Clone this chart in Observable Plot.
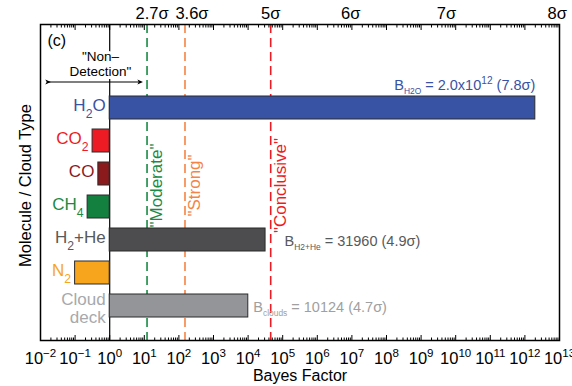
<!DOCTYPE html>
<html><head><meta charset="utf-8">
<script src="https://cdn.jsdelivr.net/npm/d3@7"></script>
<script src="https://cdn.jsdelivr.net/npm/@observablehq/plot@0.6"></script>
<style>body{margin:0;background:#fff}</style>
</head><body><div id="chart"></div>
<script>
// ---- data ----
const categories = ["H2O", "CO2", "CO", "CH4", "H2+He", "N2", "Cloud deck"];
const categoryLabels = ["H_{2}O", "CO_{2}", "CO", "CH_{4}", "H_{2}+He", "N_{2}", "Cloud\ndeck"];
const bayesFactors = [2.0e12, 0.32, 0.47, 0.23, 31960, 0.10, 10124];
const barColors = ["#3953a4", "#ed1c24", "#8b1a1d", "#138040", "#4d4d4f", "#f7a51c", "#939598"];
const labelColors = ["#3953a4", "#ed1c24", "#8b1a1d", "#1a8a45", "#58595b", "#f7a51c", "#a7a9ac"];

const decades = d3.range(-2, 14);
const tickLabels = decades.map(k => `10^{${k < 0 ? "\u2212" + (-k) : k}}`);
const minorTicks = decades.slice(0, -1).flatMap(k => d3.range(2, 10).map(m => m * 10 ** k));

const sigmaLabels = ["2.7σ", "3.6σ", "5σ", "6σ", "7σ", "8σ"];
const sigmaBayes = [12, 150, 4.5e4, 9.3e6, 5.4e9, 8.6e12];

const thresholdNames = ['"Moderate"', '"Strong"', '"Conclusive"'];
const thresholdBayes = [12, 150, 4.5e4];
const thresholdColors = ["#1a8a45", "#f58345", "#ed1c24"];

const annotationCats = ["H2O", "H2+He", "Cloud deck"];
const annotationBayes = [2.0e12, 31960, 10124];
const annotationTexts = ["B~{H2O} = 2.0x10^{12} (7.8σ)", "B~{H2+He} = 31960 (4.9σ)", "B~{clouds} = 10124 (4.7σ)"];
const annotationColors = ["#3953a4", "#58595b", "#a0a0a0"];

const noteRow = "note";
const nonDetectionText = '"Non\u2013\nDetection"';
const nonDetectionCenter = 0.54;
const nonDetectionRange = [0.017, 7.8];

// ---- tables ----
const rows = categories.map((c, i) => ({cat: c, label: categoryLabels[i], value: bayesFactors[i], color: barColors[i], labelColor: labelColors[i]}));
const singleRows = rows.filter(r => !r.label.includes("\n"));
const multiRows = rows.filter(r => r.label.includes("\n"));
const sigmas = sigmaLabels.map((s, i) => ({label: s, x: sigmaBayes[i], i}));
const thresholds = thresholdNames.map((n, i) => ({name: n, x: thresholdBayes[i], color: thresholdColors[i]}));
const annots = annotationCats.map((c, i) => ({cat: c, x: annotationBayes[i], text: annotationTexts[i], color: annotationColors[i]}));
const sigmaShift = [5, 7, 0, 0, 0, 0];

const chart = Plot.plot({
  width: 572,
  height: 386,
  marginLeft: 40,
  marginRight: 13,
  marginTop: 24,
  marginBottom: 46,
  style: {fontFamily: "'Liberation Sans', Arial, Helvetica, sans-serif", fontSize: "16px", background: "white", overflow: "visible"},
  x: {type: "log", domain: [1e-2, 1e13]},
  y: {domain: [noteRow, ...categories], range: [57, 323], paddingInner: 0.31, paddingOuter: 0.155, axis: null},
  marks: [
    Plot.ruleX(thresholds, {x: "x", stroke: "color", strokeWidth: 1.6, strokeDasharray: "9,5"}),
    Plot.ruleX([1], {stroke: "black", strokeWidth: 1.2}),
    Plot.barX(rows, {y: "cat", x1: 1, x2: "value", fill: "color", stroke: "#2b2b2b", strokeWidth: 1}),
    Plot.text(singleRows, {y: "cat", x: d => Math.min(d.value, 1), text: "label", fill: "labelColor", textAnchor: "end", dx: -4, dy: -2, fontSize: 17}),
    Plot.text(multiRows, {y: "cat", x: d => Math.min(d.value, 1), text: "label", fill: "labelColor", textAnchor: "end", dx: -4, dy: 2, fontSize: 17, lineHeight: 1.07}),
    Plot.text(thresholds, {x: "x", text: "name", fill: "color", rotate: -90, frameAnchor: "middle", textAnchor: "middle", lineAnchor: "middle", dx: 10, dy: 3, fontSize: 17}),
    Plot.text(annots.slice(0, 1), {y: "cat", x: "x", text: "text", fill: "color", textAnchor: "end", lineAnchor: "bottom", dy: -18, fontSize: 14.5}),
    Plot.text(annots.slice(1, 2), {y: "cat", x: "x", text: "text", fill: "color", textAnchor: "start", dx: 19, dy: 1, fontSize: 14.5}),
    Plot.text(annots.slice(2), {y: "cat", x: "x", text: "text", fill: "color", textAnchor: "start", dx: 5, dy: 1, fontSize: 14.5}),
    Plot.text([{x: nonDetectionCenter, y: noteRow, t: nonDetectionText}], {x: "x", y: "y", text: "t", dy: -11, fontSize: 13.5, lineHeight: 1.08, stroke: "white", strokeWidth: 6, paintOrder: "stroke", fill: "black"}),
    Plot.link([{x1: nonDetectionRange[0], x2: nonDetectionRange[1], y: noteRow}], {x1: "x1", x2: "x2", y1: "y", y2: "y", dy: 7, stroke: "black", strokeWidth: 1.2, markerStart: "arrow", markerEnd: "arrow"}),
    Plot.text(["(c)"], {frameAnchor: "top-left", textAnchor: "start", lineAnchor: "middle", dx: 7, dy: 16, fontSize: 16}),
    Plot.axisX(decades.map(k => 10 ** k), {anchor: "bottom", tickSize: -5, tickFormat: () => "", strokeWidth: 1}),
    Plot.axisX(minorTicks, {anchor: "bottom", tickSize: -2.5, tickFormat: () => "", strokeWidth: 1}),
    Plot.axisX(decades.map(k => 10 ** k), {anchor: "top", tickSize: -5, tickFormat: () => "", strokeWidth: 1}),
    Plot.axisX(minorTicks, {anchor: "top", tickSize: -2.5, tickFormat: () => "", strokeWidth: 1}),
    Plot.text(decades, {x: k => 10 ** k, text: (k, i) => tickLabels[i], frameAnchor: "bottom", lineAnchor: "bottom", dy: 23, fontSize: 16.5}),
    Plot.text(["Bayes Factor"], {frameAnchor: "bottom", textAnchor: "middle", lineAnchor: "bottom", dy: 40, fontSize: 16}),
    ...sigmas.map(s => Plot.text([s], {x: "x", text: "label", frameAnchor: "top", lineAnchor: "bottom", dy: -6, dx: sigmaShift[s.i], fontSize: 16.5})),
    Plot.text(["Molecule / Cloud Type"], {frameAnchor: "left", rotate: -90, textAnchor: "middle", lineAnchor: "bottom", dx: -10, dy: 3, fontSize: 16.5}),
    Plot.frame({stroke: "black", strokeWidth: 1.5})
  ]
});
document.getElementById("chart").appendChild(chart);

// rich text: _{sub}, ~{small sub}, ^{sup}
function richify(root) {
  const ns = "http://www.w3.org/2000/svg";
  const cfg = {"_": {size: 0.72, shift: 0.36}, "~": {size: 0.58, shift: 0.3}, "^": {size: 0.7, shift: -0.42}};
  const process = el => {
    const s = el.textContent;
    if (!/[_~^]\{/.test(s)) return;
    const fs = parseFloat(getComputedStyle(el).fontSize) || 16;
    while (el.firstChild) el.removeChild(el.firstChild);
    const re = /([_~^])\{([^}]*)\}/g;
    let last = 0, m, pending = 0;
    const addPlain = str => {
      if (!str) return;
      const t = document.createElementNS(ns, "tspan");
      if (pending) t.setAttribute("dy", pending);
      pending = 0;
      t.textContent = str;
      el.appendChild(t);
    };
    while ((m = re.exec(s))) {
      addPlain(s.slice(last, m.index));
      const c = cfg[m[1]];
      const shift = fs * c.shift;
      const t = document.createElementNS(ns, "tspan");
      t.setAttribute("font-size", fs * c.size);
      t.setAttribute("dy", shift + pending);
      pending = -shift;
      t.textContent = m[2];
      el.appendChild(t);
      last = re.lastIndex;
    }
    addPlain(s.slice(last));
  };
  root.querySelectorAll("text").forEach(t => {
    const spans = t.querySelectorAll("tspan");
    if (spans.length) spans.forEach(process); else process(t);
  });
}
richify(chart);

// filled, barbed arrowheads for the "Non-Detection" double arrow
chart.querySelectorAll("marker path").forEach(p => {
  p.setAttribute("d", "M-4,-3.2L3,0L-4,3.2L-2.2,0Z");
  p.setAttribute("fill", "black");
  p.setAttribute("stroke", "none");
});
</script>
</body></html>
